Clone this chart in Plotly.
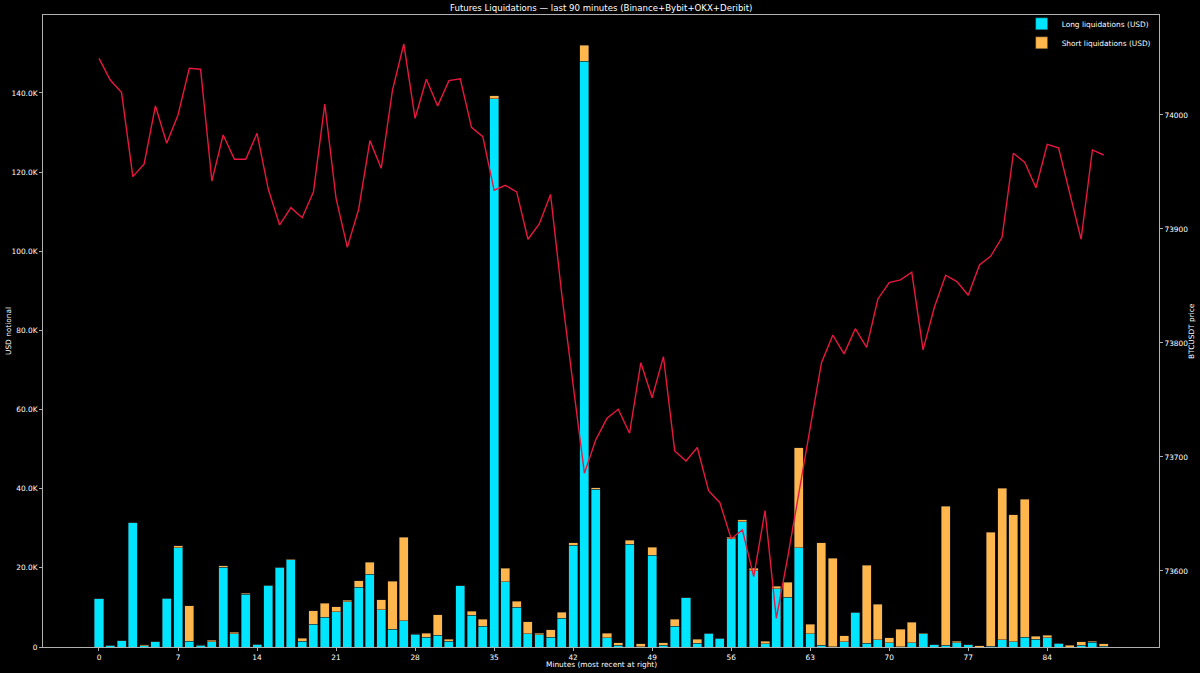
import plotly.graph_objects as go

minutes = list(range(90))

long_usd = [
    12200, 400, 1600, 31400, 300, 1300, 12300, 25100, 1500, 400,
    1300, 20100, 3400, 13300, 700, 15600, 20100, 22100, 1400, 5800,
    7500, 8900, 11400, 15100, 18400, 9400, 4500, 6600, 3200, 2500,
    3000, 1500, 15500, 8000, 5200, 138500, 16500, 10000, 3400, 3100,
    2500, 7300, 25700, 148000, 39900, 2400, 400, 26000, 100, 23200,
    500, 5300, 12500, 900, 3500, 2200, 27400, 31700, 19300, 800,
    14700, 12600, 25100, 3400, 500, 100, 1300, 8800, 1000, 1800,
    1100, 100, 1100, 3400, 600, 500, 1100, 600, 0, 200,
    1800, 1300, 2500, 2000, 2400, 1000, 0, 400, 1200, 200,
]

short_usd = [
    0, 0, 0, 0, 300, 0, 0, 500, 8900, 200,
    400, 400, 300, 300, 0, 0, 0, 100, 800, 3300,
    3500, 1300, 400, 1700, 3000, 2600, 12100, 21100, 100, 1000,
    5200, 400, 0, 1000, 1800, 750, 3400, 1500, 3000, 400,
    1800, 1500, 700, 4000, 400, 1100, 700, 1000, 700, 2000,
    600, 1700, 0, 1000, 0, 0, 300, 500, 600, 600,
    700, 3700, 25200, 2300, 25900, 22300, 1500, 0, 19600, 9000,
    1200, 4400, 5200, 100, 0, 35100, 400, 0, 300, 28800,
    38300, 32100, 34800, 700, 600, 0, 400, 900, 200, 600,
]

btc_price = [
    74049.7, 74030.7, 74019.6, 73945.9, 73957.0, 74007.9, 73975.2, 74000.0, 74041.0, 74040.1,
    73942.1, 73982.5, 73961.1, 73961.1, 73983.9, 73934.8, 73903.5, 73918.7, 73909.9, 73932.7,
    74009.6, 73926.9, 73883.9, 73917.3, 73977.5, 73953.2, 74021.9, 74062.3, 73997.1, 74031.3,
    74007.9, 74030.1, 74031.8, 73989.2, 73981.0, 73934.0, 73938.3, 73932.5, 73891.0, 73904.4,
    73930.3, 73842.1, 73763.2, 73685.7, 73714.9, 73733.9, 73741.8, 73720.8, 73782.7, 73752.0,
    73788.0, 73705.3, 73696.5, 73708.3, 73670.4, 73659.9, 73628.3, 73635.9, 73595.0, 73652.9,
    73558.5, 73611.4, 73668.4, 73723.7, 73782.7, 73806.8, 73790.4, 73812.5, 73796.2, 73838.6,
    73852.9, 73855.3, 73862.0, 73793.9, 73831.3, 73859.4, 73853.8, 73841.8, 73868.4, 73876.3,
    73892.7, 73966.4, 73958.5, 73936.2, 73974.3, 73971.1, 73930.3, 73891.0, 73969.3, 73964.9,
]

x_tick_vals = [0, 7, 14, 21, 28, 35, 42, 49, 56, 63, 70, 77, 84]
left_tick_vals = [0, 20000, 40000, 60000, 80000, 100000, 120000, 140000]
left_tick_text = ["0", "20.0K", "40.0K", "60.0K", "80.0K", "100.0K", "120.0K", "140.0K"]
right_tick_vals = [73600, 73700, 73800, 73900, 74000]
right_tick_text = ["73600", "73700", "73800", "73900", "74000"]

title_text = "Futures Liquidations — last 90 minutes (Binance+Bybit+OKX+Deribit)"
x_title = "Minutes (most recent at right)"
y_title = "USD notional"
y2_title = "BTCUSDT price"

FONT = "DejaVu Sans"
AXCOL = "#b0b0b0"
FS = 7.4

fig = go.Figure()
fig.add_trace(go.Bar(
    x=minutes, y=long_usd, name="Long liquidations (USD)", width=0.8,
    marker=dict(color="#00E5FF", line=dict(color="rgba(40,40,40,0.8)", width=0.6)),
))
fig.add_trace(go.Bar(
    x=minutes, y=short_usd, name="Short liquidations (USD)", width=0.8,
    marker=dict(color="#FFB74D", line=dict(color="rgba(40,40,40,0.8)", width=0.6)),
))
fig.add_trace(go.Scatter(
    x=minutes, y=btc_price, yaxis="y2", mode="lines", showlegend=False,
    line=dict(color="#E8173F", width=1.4), name="BTCUSDT",
))

axis_common = dict(showgrid=False, zeroline=False, showline=True, linecolor=AXCOL, linewidth=1,
                   ticks="outside", ticklen=3, tickcolor=AXCOL, automargin=False,
                   tickfont=dict(size=FS, color="white", family=FONT))

fig.update_layout(
    width=1200, height=673,
    barmode="stack",
    paper_bgcolor="black", plot_bgcolor="black",
    font=dict(family=FONT, color="white", size=FS),
    margin=dict(l=43, r=41, t=15, b=26, autoexpand=False),
    xaxis=dict(range=[-4.96, 93.9], tickvals=x_tick_vals, mirror=True, **axis_common),
    yaxis=dict(range=[0, 159700], tickvals=left_tick_vals, ticktext=left_tick_text,
               mirror=True, **axis_common),
    yaxis2=dict(range=[73533.3, 74087.7], tickvals=right_tick_vals, ticktext=right_tick_text,
                overlaying="y", side="right", **axis_common),
    legend=dict(x=0.997, y=1.009, xanchor="right", yanchor="top", bgcolor="rgba(0,0,0,0)",
                traceorder="normal", font=dict(size=FS, color="white", family=FONT),
                tracegroupgap=0, itemwidth=30),
    showlegend=True,
    annotations=[
        dict(text=title_text, xref="paper", yref="paper", x=0.5, y=1, xanchor="center",
             yanchor="middle", yshift=7, showarrow=False, font=dict(size=8.6, color="white", family=FONT)),
        dict(text=x_title, xref="paper", yref="paper", x=0.5, y=0, xanchor="center",
             yanchor="middle", yshift=-17, showarrow=False, font=dict(size=FS, color="white", family=FONT)),
        dict(text=y_title, xref="paper", yref="paper", x=0, y=0.5, xanchor="center",
             yanchor="middle", xshift=-35, textangle=-90, showarrow=False,
             font=dict(size=FS, color="white", family=FONT)),
        dict(text=y2_title, xref="paper", yref="paper", x=1, y=0.5, xanchor="center",
             yanchor="middle", xshift=32, textangle=-90, showarrow=False,
             font=dict(size=FS, color="white", family=FONT)),
    ],
)

fig.write_html(
    "out.html",
    config={"displayModeBar": False},
    post_script="document.body.style.margin='0';document.body.style.overflow='hidden';",
)
